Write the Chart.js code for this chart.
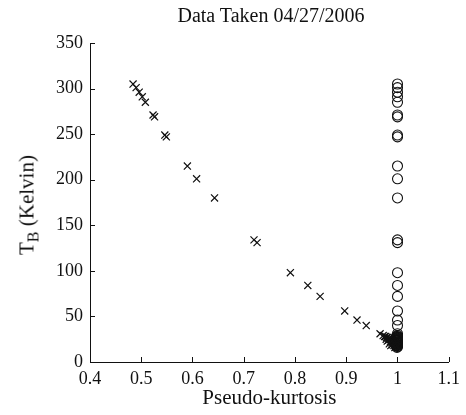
<!DOCTYPE html>
<html>
<head>
<meta charset="utf-8">
<script src="https://cdn.jsdelivr.net/npm/chart.js@4/dist/chart.umd.min.js"></script>
<style>
  html, body { margin: 0; padding: 0; background: #fff; }
  #wrap { position: relative; width: 466px; height: 415px; }
  #title {
    position: absolute; left: 271px; top: 3px;
    transform: translateX(-50%);
    font: 20px/24px "Liberation Serif", "Times New Roman", serif;
    color: #111; white-space: nowrap;
  }
  #ylabel {
    position: absolute; left: 27px; top: 205px;
    transform: translate(-50%, -50%) rotate(-90deg);
    font: 21px "Liberation Serif", "Times New Roman", serif;
    color: #111; white-space: nowrap;
  }
  #ylabel sub { font-size: 16px; vertical-align: -5px; line-height: 0; }
</style>
</head>
<body>
<div id="wrap">
  <canvas id="chart"></canvas>
  <div id="title">Data Taken 04/27/2006</div>
  <div id="ylabel">T<sub>B</sub> (Kelvin)</div>
</div>
<script>
  // brightness temperature, shared by both marker sets
  const tbValues = [305, 301, 296, 291, 285, 271, 269, 249, 247, 215, 201, 180, 134, 131,
                    98, 84, 72, 56, 46, 40, 31, 28, 27, 26, 25, 24, 23, 22, 21, 20, 19, 17,
                    29, 28, 27, 26, 25, 24, 24, 23, 22, 22, 21, 20, 19, 18, 18, 16];
  // pseudo-kurtosis for the x markers
  const crossX = [0.484, 0.490, 0.496, 0.502, 0.508, 0.523, 0.526, 0.546, 0.549, 0.590, 0.608, 0.643, 0.720, 0.726,
                  0.791, 0.825, 0.849, 0.897, 0.921, 0.939, 0.966, 0.975, 0.979, 0.983, 0.986, 0.989, 0.991, 0.993, 0.995, 0.996, 0.998, 0.999,
                  0.972, 0.977, 0.981, 0.985, 0.978, 0.983, 0.988, 0.980, 0.986, 0.992, 0.989, 0.984, 0.990, 0.993, 0.987, 0.995];
  // pseudo-kurtosis for the circle markers
  const circleX = [1, 1, 1, 1, 1, 1, 1, 1, 1, 1, 1, 1, 1, 1,
                   1, 1, 1, 1, 1, 1, 1, 1, 1, 1, 1, 1, 1, 1, 1, 1, 1, 1,
                   1, 0.998, 1, 0.999, 1, 0.997, 1, 0.998, 1, 0.999, 1, 0.997, 1, 0.998, 1, 0.999];

  const xTicks = [0.4, 0.5, 0.6, 0.7, 0.8, 0.9, 1, 1.1];
  const yTicks = [0, 50, 100, 150, 200, 250, 300, 350];

  const serif = '"Liberation Serif", "Times New Roman", serif';

  function toPoints(xs, ys) { return xs.map((x, i) => ({ x: x, y: ys[i] })); }

  // MATLAB style ticks pointing into the plot
  const inwardTicks = {
    id: "inwardTicks",
    afterDraw(chart) {
      const { ctx, chartArea, scales } = chart;
      ctx.save();
      ctx.strokeStyle = "#111";
      ctx.lineWidth = 1;
      ctx.beginPath();
      xTicks.forEach((v) => {
        const px = Math.round(scales.x.getPixelForValue(v)) + 0.5;
        ctx.moveTo(px, chartArea.bottom);
        ctx.lineTo(px, chartArea.bottom - 5);
      });
      yTicks.forEach((v) => {
        const py = Math.round(scales.y.getPixelForValue(v)) + 0.5;
        ctx.moveTo(chartArea.left, py);
        ctx.lineTo(chartArea.left + 5, py);
      });
      ctx.stroke();
      ctx.restore();
    }
  };

  new Chart(document.getElementById("chart"), {
    type: "scatter",
    data: {
      datasets: [
        {
          label: "crosses",
          data: toPoints(crossX, tbValues),
          pointStyle: "crossRot",
          pointRadius: 5,
          borderColor: "#111",
          borderWidth: 1.2
        },
        {
          label: "circles",
          data: toPoints(circleX, tbValues),
          pointStyle: "circle",
          pointRadius: 5,
          borderColor: "#111",
          backgroundColor: "rgba(0,0,0,0)",
          borderWidth: 1.1
        }
      ]
    },
    options: {
      responsive: true,
      maintainAspectRatio: false,
      animation: false,
      layout: { padding: { left: 0, right: 13, top: 43, bottom: 0 } },
      plugins: {
        legend: { display: false },
        tooltip: { enabled: false }
      },
      scales: {
        x: {
          type: "linear",
          min: 0.4, max: 1.1,
          afterBuildTicks: (s) => { s.ticks = xTicks.map((v) => ({ value: v })); },
          afterFit: (s) => { s.height = 53; },
          grid: { display: false, drawTicks: false },
          border: { display: true, color: "#111", width: 1 },
          ticks: {
            color: "#111", padding: 6, maxRotation: 0,
            font: { family: serif, size: 18 },
            callback: (v) => String(v)
          },
          title: {
            display: true, text: "Pseudo-kurtosis", color: "#111",
            font: { family: serif, size: 21 },
            padding: { top: 0, bottom: 4 }
          }
        },
        y: {
          type: "linear",
          min: 0, max: 350,
          afterBuildTicks: (s) => { s.ticks = yTicks.map((v) => ({ value: v })); },
          afterFit: (s) => { s.width = 90; },
          grid: { display: false, drawTicks: false },
          border: { display: true, color: "#111", width: 1 },
          ticks: {
            color: "#111", padding: 7,
            font: { family: serif, size: 18 },
            callback: (v) => String(v)
          }
        }
      }
    },
    plugins: [inwardTicks]
  });
</script>
</body>
</html>
